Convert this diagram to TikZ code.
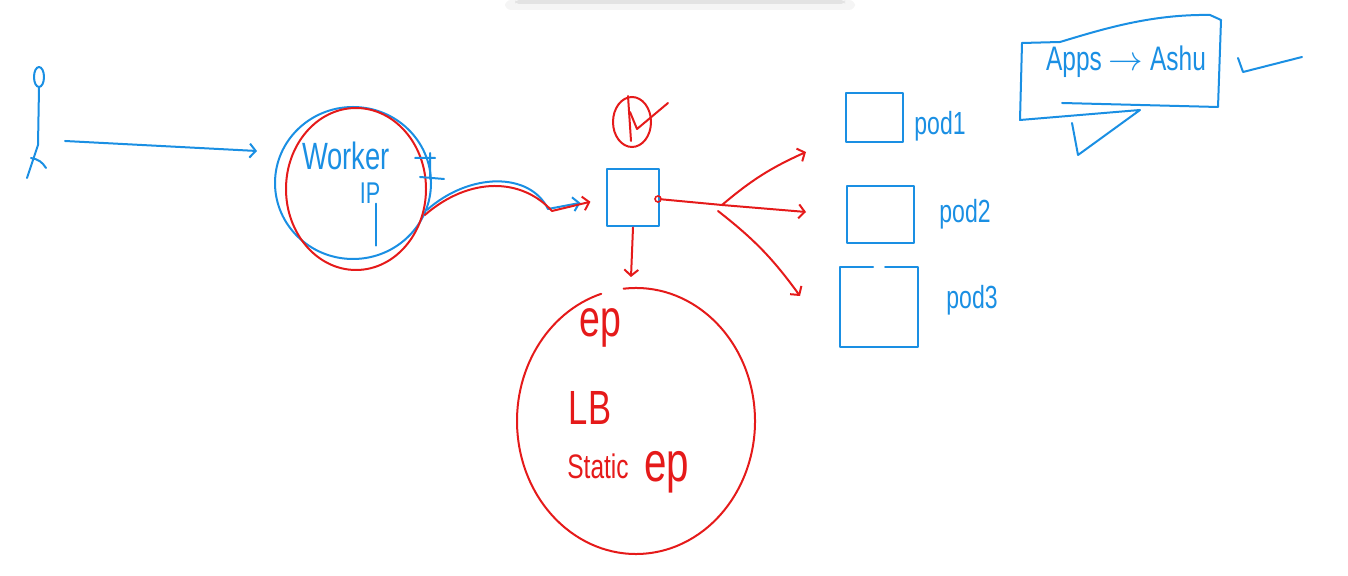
\documentclass[tikz,border=0pt]{standalone}
\usepackage{fontspec}
\setmainfont[FakeStretch=0.72]{Liberation Sans}
\usetikzlibrary{arrows.meta,calc,shapes.geometric}
\definecolor{penblue}{HTML}{1A8FE3}
\definecolor{penred}{HTML}{E51A1A}

\begin{document}
\begin{tikzpicture}[x=0.5pt,y=-0.5pt,
  bl/.style={draw=penblue, line width=1pt, line cap=round, line join=round},
  rd/.style={draw=penred, line width=1pt, line cap=round, line join=round},
  ar/.style={-{Straight Barb[length=3pt,width=7pt]}},
  btxt/.style={text=penblue, inner sep=0pt},
  rtxt/.style={text=penred, inner sep=0pt},
  pod/.style={bl, rectangle, inner sep=0pt},
]
\useasboundingbox (0,0) rectangle (1348,576);
% toolbar shadow
\fill[gray!8, rounded corners=3pt] (505,0) rectangle (855,10);
\fill[gray!22, rounded corners=2pt] (515,0) rectangle (845,4);

% user
\node[bl, ellipse, minimum width=5pt, minimum height=10pt, inner sep=0pt] (head) at (39,77) {};
\coordinate (hip) at (38,145);
\coordinate (lfoot) at (27,178);
\coordinate (rfoot) at (46,168);
\draw[bl] (head.south) -- (hip) -- (lfoot);
\draw[bl] (31,158) to[bend left=25] (rfoot);
\coordinate (ustart) at (65,141);
\coordinate (uend) at (257,151);
\draw[bl, ar] (ustart) -- (uend);

% worker ip
\node[bl, ellipse, minimum width=78pt, minimum height=76pt] (worker) at (353,183) {};
\node[draw=penred, line width=1pt, ellipse, minimum width=70pt, minimum height=81pt] (ring) at (356,189) {};
\node[btxt, font=\fontsize{19}{21}\selectfont] (wtxt) at (346,156) {Worker};
\node[btxt, font=\fontsize{15}{17}\selectfont] (ip) at (370,193) {IP};
\draw[bl] ($(ip.south)+(6,0)$) -- ++(0,42);
\draw[bl] (415,158) -- (435,158) (430,153) -- (430,179) (420,177) -- (444,179);

% service box
\node[pod, minimum width=26pt, minimum height=28.5pt] (lb) at (633,198) {};
\draw[bl, ar, shorten >=13pt] (worker.-20) .. controls (470,172) and (530,172) .. (548,209) -- (lb.west);
\draw[rd, ar, shorten >=8pt] (worker.-24) .. controls (470,176) and (522,178) .. (552,211) -- (lb.west);

% check
\node[draw=penred, line width=1pt, ellipse, minimum width=19pt, minimum height=25pt] (ok) at (632,122) {};
\draw[rd] (628,96) -- (631,141);
\draw[rd] (630,112) -- (637,129) -- (668,103);

% fan out to pods
\node[draw=penred, line width=0.8pt, circle, inner sep=0pt, minimum size=3pt] (dot) at (658,199) {};
\coordinate (j) at (722,205);
\coordinate (t1) at (806,152);
\coordinate (t2) at (806,212);
\coordinate (t3) at (800,296);
\draw[rd] (dot) -- (j);
\draw[rd, ar] (j) -- (t2);
\draw[rd, ar] (j) to[bend left=8] (t1);
\draw[rd, ar] (718,211) to[bend left=8] (t3);

% pods
\node[pod, minimum width=28.5pt, minimum height=24.5pt] (pod1) at (874,118) {};
\node[pod, minimum width=33.5pt, minimum height=28.5pt] (pod2) at (880,215) {};
\node[rectangle, inner sep=0pt, minimum width=39pt, minimum height=40pt] (pod3) at (879,307) {};
\draw[bl] ($(pod3.north)+(-6,0)$) -- (pod3.north west) -- (pod3.south west)
  -- (pod3.south east) -- (pod3.north east) -- ($(pod3.north)+(6,0)$);
\node[btxt, font=\fontsize{16}{18}\selectfont] (l1) at (940,126) {pod1};
\node[btxt, font=\fontsize{16}{18}\selectfont] (l2) at (965,214) {pod2};
\node[btxt, font=\fontsize{16}{18}\selectfont] (l3) at (972,300) {pod3};

% endpoints
\coordinate (epin) at (631,277);
\draw[rd, ar] (lb.south) -- (epin);
\node[ellipse, minimum width=119pt, minimum height=133pt] (epring) at (636,421) {};
\draw[rd] (epring.center) ++(-96:119 and 133) arc[start angle=-96, end angle=253, x radius=119, y radius=133];
\node[rtxt, font=\fontsize{26}{28}\selectfont] (ep) at (600,328) {ep};
\node[rtxt, font=\fontsize{24}{26}\selectfont] (lbtxt) at (590,408) {LB};
\node[rtxt, font=\fontsize{17}{19}\selectfont] (stat) at (598,466) {Static};
\node[rtxt, font=\fontsize{28}{30}\selectfont, anchor=base west] (ep2) at (644,481) {ep};

% note
\node[btxt, font=\fontsize{17}{19}\selectfont] (apps) at (1126,62) {Apps $\rightarrow$ Ashu};
\draw[bl] (1022,43) -- (1060,42) .. controls (1100,30) and (1150,14) .. (1210,15) -- (1221,20)
  -- (1218,107) -- (1062,103);
\draw[bl] (1022,43) -- (1020,120) -- (1140,110) -- (1078,155) -- (1072,123);
\draw[bl] (1238,58) -- (1243,72) -- (1302,57);
\end{tikzpicture}
\end{document}
